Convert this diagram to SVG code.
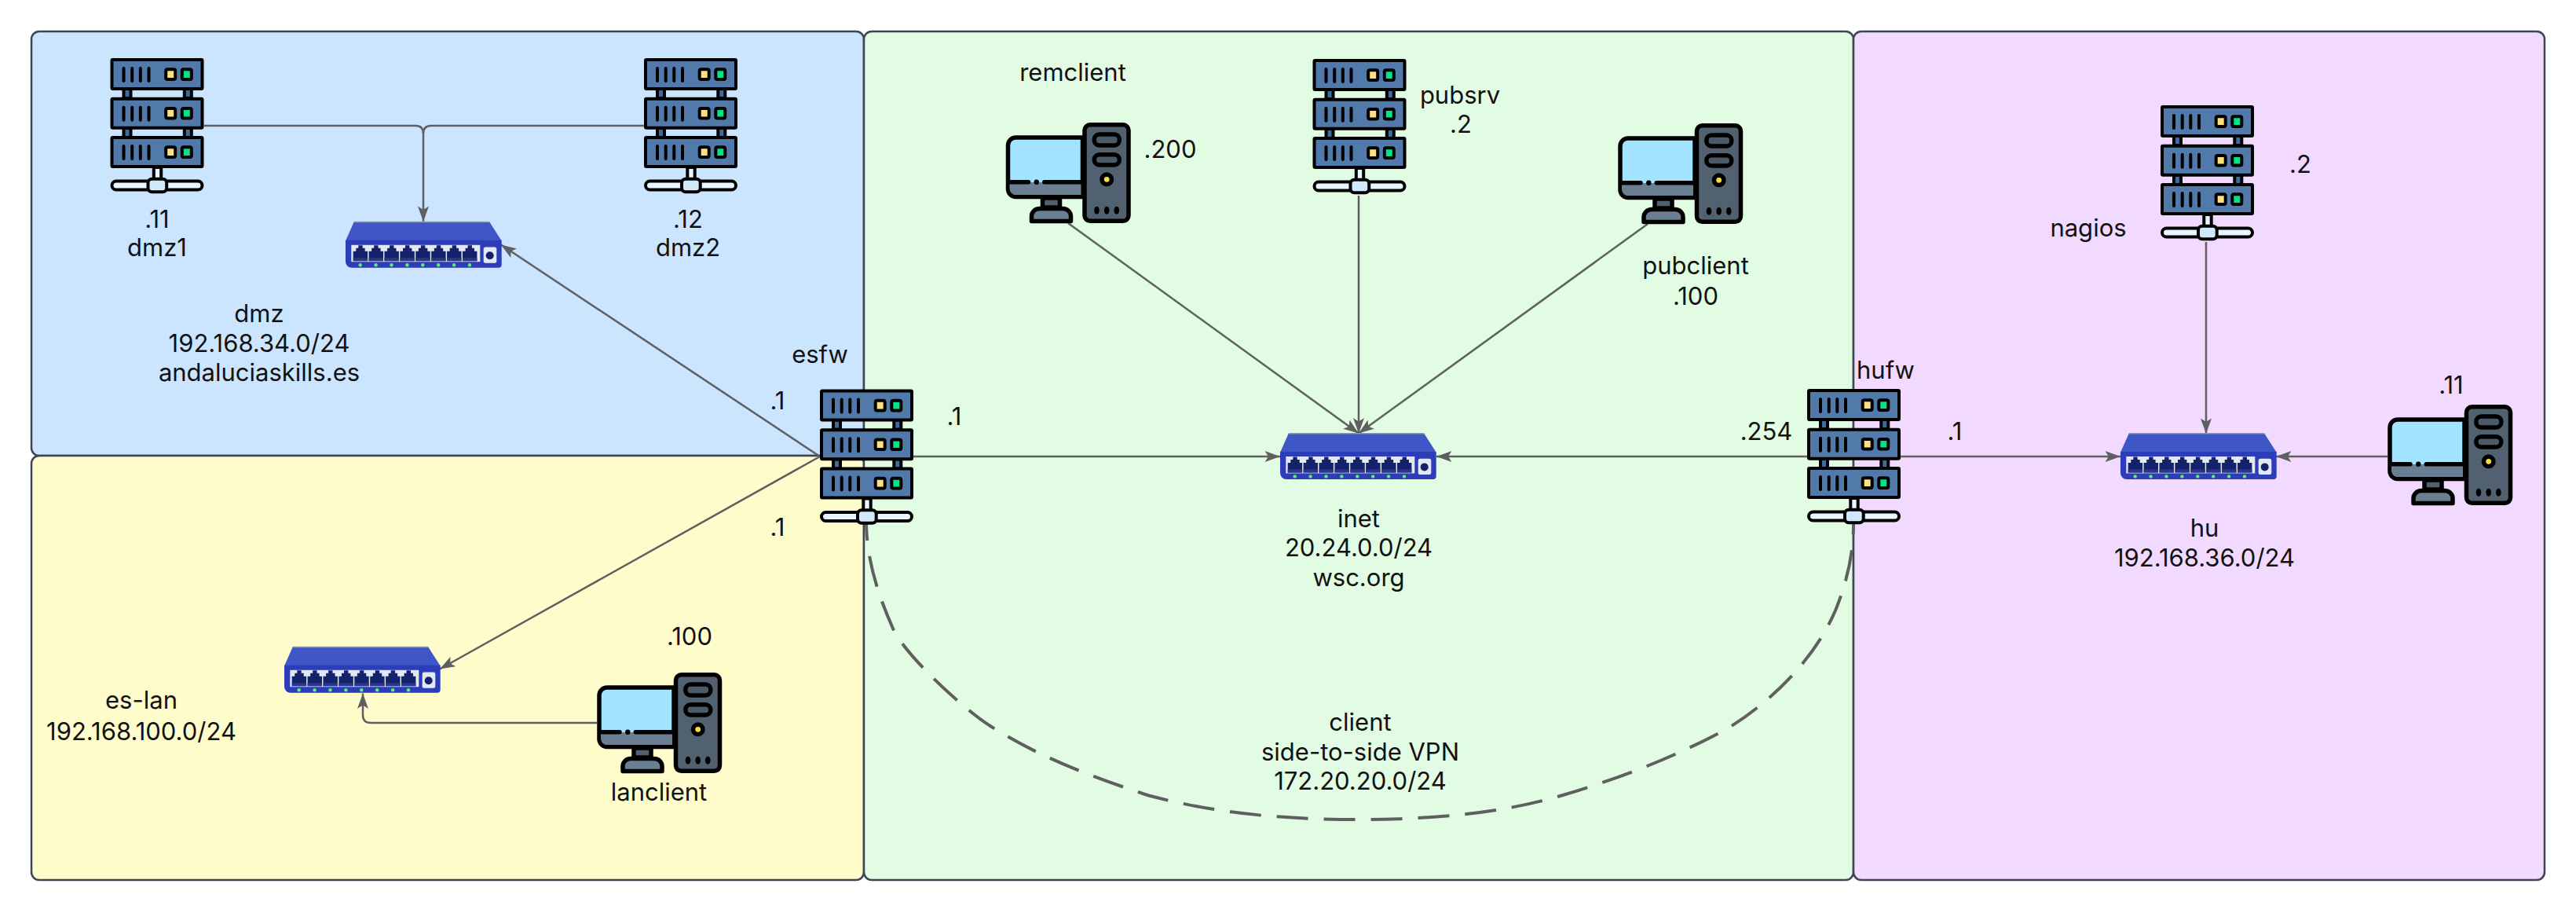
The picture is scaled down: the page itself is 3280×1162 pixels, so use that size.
<svg xmlns="http://www.w3.org/2000/svg" xmlns:xlink="http://www.w3.org/1999/xlink" width="3280" height="1162" viewBox="0 0 3280 1162">
<style>
text{font-family:"Inter","Liberation Sans",sans-serif;font-size:31px;fill:#111;text-anchor:middle}
.panel{stroke:#3e4552;stroke-width:2.5}
.edge{fill:none;stroke:#5f5f5f;stroke-width:2.5}
.k{stroke:#000;stroke-width:4}
.kk{stroke:#000;stroke-width:5.5}
</style>
<defs>
<marker id="arrow" markerUnits="userSpaceOnUse" markerWidth="20" markerHeight="14" refX="18" refY="6.5" orient="auto" viewBox="0 0 18 13"><path d="M0 0L18 6.5L0 13L4 6.5Z" fill="#5f5f5f"/></marker>
<g id="row">
<rect class="k" x="2" y="2" width="115" height="37" rx="1" fill="#5179aa"/>
<path d="M17 13V29M27.7 13V29M38.3 13V29M49 13V29" stroke="#000" stroke-width="4" stroke-linecap="round" fill="none"/>
<rect class="k" x="70.7" y="14.3" width="12" height="12.6" rx="2" fill="#ffe17d"/>
<rect class="k" x="91.3" y="14.3" width="12" height="12.6" rx="2" fill="#00e38a"/>
</g>
<g id="server">
<rect class="k" x="17" y="39" width="9" height="12" fill="#3f6a9e"/><rect class="k" x="94.3" y="39" width="9" height="12" fill="#3f6a9e"/>
<rect class="k" x="17" y="89" width="9" height="12" fill="#3f6a9e"/><rect class="k" x="94.3" y="89" width="9" height="12" fill="#3f6a9e"/>
<use xlink:href="#row"/><use xlink:href="#row" y="49.7"/><use xlink:href="#row" y="99"/>
<rect class="k" x="55.3" y="139" width="9.4" height="18" fill="#eaf6ff"/>
<rect class="k" x="2" y="156.5" width="115" height="11" rx="5.5" fill="#eaf6ff"/>
<rect class="k" x="48" y="153.7" width="23.7" height="16.6" rx="5" fill="#d0e9fb"/>
</g>
<g id="pc">
<path class="kk" d="M13 19H98V94.5H13A10 10 0 0 1 3 84.5V29A10 10 0 0 1 13 19Z" fill="#a2e4ff"/>
<path d="M5 76H96V92H13A8 8 0 0 1 5 84Z" fill="#6b7f93"/>
<path d="M4 75.7H29M49.3 75.7H98" stroke="#000" stroke-width="5.5" stroke-linecap="round"/><circle cx="39.3" cy="75.7" r="3.2"/>
<rect class="kk" x="47" y="96" width="22" height="12" fill="#52616f"/>
<path class="kk" d="M43 109.5H73A10 10 0 0 1 83 119.5V125.5H33V119.5A10 10 0 0 1 43 109.5Z" fill="#6b7f93" stroke-linejoin="round"/>
<rect class="kk" x="100.5" y="2.8" width="56" height="122.5" rx="7" fill="#52616f"/>
<rect class="kk" x="112.8" y="15.1" width="32" height="13.8" rx="6.5" fill="#4b5a68"/>
<rect class="kk" x="112.8" y="40.8" width="32" height="13.1" rx="6.5" fill="#4b5a68"/>
<circle cx="128.7" cy="72.3" r="9"/><circle cx="128.7" cy="72.3" r="3.4" fill="#f6df3c"/>
<ellipse cx="116" cy="111.7" rx="3.3" ry="5"/><ellipse cx="128.7" cy="111.7" rx="3.3" ry="5"/><ellipse cx="141.3" cy="111.7" rx="3.3" ry="5"/>
</g>
<g id="port">
<path d="M0 11H3.6V7H6.6V3.5H12V7H15V11H18.4V23.5H0Z" fill="#14226b"/>
<rect y="19.5" width="18.4" height="4" fill="#2a3688"/>
<circle cx="9" cy="28.5" r="2.2" fill="#5cf06b"/>
</g>
<g id="switch">
<path d="M10.7 0H183.3L198.7 24H0Z" fill="#3f56c6"/>
<path d="M10.7 0H183.3" stroke="#8a97bf" stroke-width="1.5"/>
<path d="M0 23.3H198.7V54.3A4 4 0 0 1 194.7 58.3H8A8 8 0 0 1 0 50.3Z" fill="#2d3dba"/>
<rect x="7.3" y="29.3" width="164" height="21.4" fill="#e3e8f5"/>
<use xlink:href="#port" x="9.7" y="26.2"/><use xlink:href="#port" x="29.6" y="26.2"/><use xlink:href="#port" x="49.5" y="26.2"/><use xlink:href="#port" x="69.4" y="26.2"/>
<use xlink:href="#port" x="89.3" y="26.2"/><use xlink:href="#port" x="109.2" y="26.2"/><use xlink:href="#port" x="129.1" y="26.2"/><use xlink:href="#port" x="149" y="26.2"/>
<rect x="175.7" y="32" width="16.6" height="20.3" rx="2.5" fill="#e3e8f5"/>
<circle cx="183.7" cy="42.7" r="5" fill="#14226b"/>
</g>
</defs>
<rect width="3280" height="1162" fill="#fff"/>
<g id="zones">
<rect id="zone-dmz" class="panel" x="40" y="40" width="1060" height="540" rx="10" fill="#cce5ff"/>
<rect id="zone-eslan" class="panel" x="40" y="580" width="1060" height="540" rx="10" fill="#fffccc"/>
<rect id="zone-inet" class="panel" x="1100" y="40" width="1260" height="1080" rx="10" fill="#e2fbe3"/>
<rect id="zone-hu" class="panel" x="2360" y="40" width="880" height="1080" rx="10" fill="#f1d9ff"/>
</g>
<g id="connectors">
<path class="edge" d="M260 160H529Q539 160 539 170V282" marker-end="url(#arrow)"/>
<path class="edge" d="M820 160H549Q539 160 539 170"/>
<path class="edge" d="M1044 581L638 311.5" marker-end="url(#arrow)"/>
<path class="edge" d="M1044 581L560 851.5" marker-end="url(#arrow)"/>
<path class="edge" d="M1163 581H1630" marker-end="url(#arrow)"/>
<path class="edge" d="M2301 581H1829" marker-end="url(#arrow)"/>
<path class="edge" d="M2420 581H2700" marker-end="url(#arrow)"/>
<path class="edge" d="M3040 581H2898" marker-end="url(#arrow)"/>
<path class="edge" d="M2809 308V552" marker-end="url(#arrow)"/>
<path class="edge" d="M1360 284L1730 551.5" marker-end="url(#arrow)"/>
<path class="edge" d="M1730 249V551.5" marker-end="url(#arrow)"/>
<path class="edge" d="M2098 285L1730 551.5" marker-end="url(#arrow)"/>
<path class="edge" d="M760 920H472Q462 920 462 910V882.5" marker-end="url(#arrow)"/>
<path class="edge" d="M1103 648V667C1104 710 1115 750 1137 800C1153 835 1230 905 1261 924C1325 965 1395 990 1461 1012C1550 1036 1640 1043 1726 1043C1820 1043 1910 1036 1990 1012C2060 991 2130 965 2200 927C2255 893 2310 840 2337 777C2352 740 2360 705 2360 667V650" stroke-dasharray="40 20" style="stroke-width:4"/>
</g>
<g id="dmz"><use xlink:href="#switch" x="440" y="282.5"/><text x="330" y="410">dmz</text><text x="330" y="447.5">192.168.34.0/24</text><text x="330" y="485">andaluciaskills.es</text></g>
<g id="dmz1"><use xlink:href="#server" x="140.5" y="74"/><text x="200" y="290">.11</text><text x="200" y="326">dmz1</text></g>
<g id="dmz2"><use xlink:href="#server" x="820" y="74"/><text x="876" y="290">.12</text><text x="876" y="326">dmz2</text></g>
<g id="esfw"><use xlink:href="#server" x="1044" y="495.5"/><text x="1044" y="462">esfw</text><text x="990" y="521">.1</text><text x="1215" y="541">.1</text><text x="990" y="682">.1</text></g>
<g id="es-lan"><use xlink:href="#switch" x="362" y="823.5"/><text x="180" y="902">es-lan</text><text x="180" y="942">192.168.100.0/24</text></g>
<g id="lanclient"><use xlink:href="#pc" x="760" y="856"/><text x="878" y="820.5">.100</text><text x="839" y="1019">lanclient</text></g>
<g id="remclient"><use xlink:href="#pc" x="1280.5" y="156"/><text x="1366" y="103">remclient</text><text x="1490" y="201">.200</text></g>
<g id="pubsrv"><use xlink:href="#server" x="1671.5" y="75"/><text x="1859" y="132">pubsrv</text><text x="1860" y="169">.2</text></g>
<g id="pubclient"><use xlink:href="#pc" x="2060" y="157"/><text x="2159" y="349">pubclient</text><text x="2159" y="388">.100</text></g>
<g id="inet"><use xlink:href="#switch" x="1630" y="551.7"/><text x="1730" y="671">inet</text><text x="1730" y="708">20.24.0.0/24</text><text x="1730" y="746">wsc.org</text></g>
<g id="client"><text x="1732" y="930">client</text><text x="1732" y="967.5">side-to-side VPN</text><text x="1732" y="1005">172.20.20.0/24</text></g>
<g id="hufw"><use xlink:href="#server" x="2301" y="495"/><text x="2401" y="482">hufw</text><text x="2249" y="560">.254</text><text x="2489" y="560">.1</text></g>
<g id="nagios"><use xlink:href="#server" x="2751" y="134"/><text x="2929" y="220">.2</text><text x="2659" y="301">nagios</text></g>
<g id="hu"><use xlink:href="#switch" x="2700" y="551.7"/><text x="2807" y="683">hu</text><text x="2807" y="721">192.168.36.0/24</text></g>
<g id="hupc"><use xlink:href="#pc" x="3040" y="515"/><text x="3121" y="501">.11</text></g>
</svg>
